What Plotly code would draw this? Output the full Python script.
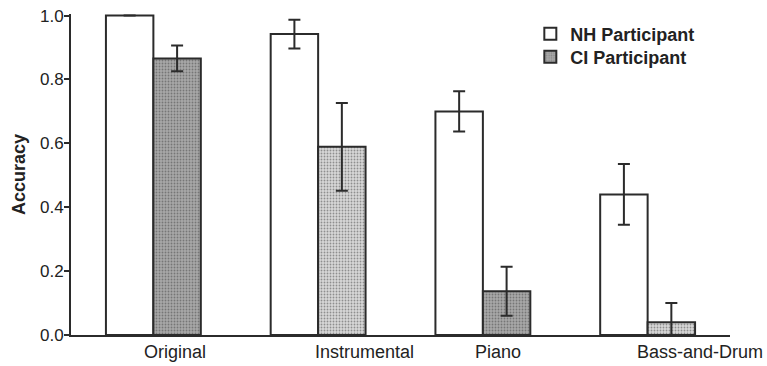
import plotly.graph_objects as go

categories = ["Original", "Instrumental", "Piano", "Bass-and-Drum"]
nh_values = [1.0, 0.942, 0.700, 0.440]
nh_errors = [0.0, 0.045, 0.063, 0.095]
ci_values = [0.866, 0.589, 0.137, 0.040]
ci_errors = [0.040, 0.137, 0.077, 0.060]
ci_fill = ["#a8a8a8", "#d8d8d8", "#a8a8a8", "#d8d8d8"]
label_pos = [0.13, 1.28, 2.09, 3.32]
y_ticks = [0.0, 0.2, 0.4, 0.6, 0.8, 1.0]

dark = "#2b2b2b"
font_family = "Liberation Sans, Arial, sans-serif"
legend_font = dict(family=font_family, size=18, color="#222", weight="bold")

fig = go.Figure()
fig.add_trace(go.Bar(
    x=categories, y=nh_values, name="NH Participant", legend="legend",
    cliponaxis=False,
    marker=dict(color="white", line=dict(color=dark, width=2)),
    error_y=dict(type="data", array=nh_errors, visible=True,
                 color=dark, thickness=2, width=6),
))
fig.add_trace(go.Bar(
    x=categories, y=ci_values, name="CI Participant", legend="legend2",
    marker=dict(color=ci_fill, line=dict(color=dark, width=2),
                pattern=dict(shape=".", fgcolor="#6a6a6a", size=3, solidity=0.3)),
    error_y=dict(type="data", array=ci_errors, visible=True,
                 color=dark, thickness=2, width=6),
))

for cat_x, cat in zip(label_pos, categories):
    fig.add_annotation(x=cat_x, y=-0.053, xref="x", yref="paper", text=cat,
                       showarrow=False, yanchor="middle",
                       font=dict(family=font_family, size=18, color="#222"))

fig.update_layout(
    width=767, height=366,
    margin=dict(l=71, r=37, t=14, b=31, autoexpand=False),
    paper_bgcolor="white", plot_bgcolor="white",
    barmode="group", bargap=0.424, bargroupgap=0,
    font=dict(family=font_family, color="#222"),
    showlegend=True,
    legend=dict(x=0.697, y=0.9375, xanchor="left", yanchor="middle",
                bgcolor="rgba(0,0,0,0)", font=legend_font),
    legend2=dict(x=0.697, y=0.866, xanchor="left", yanchor="middle",
                 bgcolor="rgba(0,0,0,0)", font=legend_font),
    xaxis=dict(range=[-0.5, 3.5], showticklabels=False, ticks="",
               showline=True, linecolor=dark, linewidth=2, showgrid=False,
               zeroline=False),
    yaxis=dict(range=[0, 1.005], tickvals=y_ticks, tickformat=".1f",
               ticks="outside", ticklen=5, tickwidth=2, tickcolor=dark,
               ticklabelstandoff=-3,
               showline=True, linecolor=dark, linewidth=2, showgrid=False,
               zeroline=False,
               tickfont=dict(family=font_family, size=17, color="#222"),
               title=dict(text="Accuracy", standoff=10,
                          font=dict(family=font_family, size=18, color="#222", weight="bold"))),
)

fig.write_html("out.html", config={"displayModeBar": False},
               post_script="document.body.style.margin='0';")
